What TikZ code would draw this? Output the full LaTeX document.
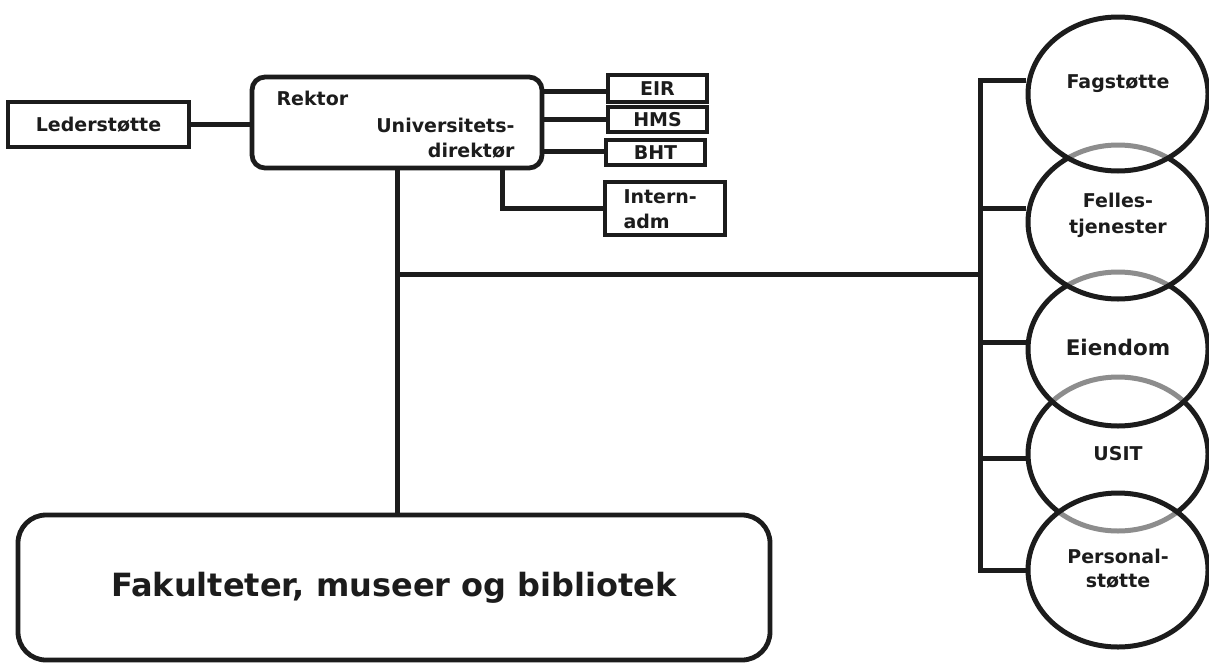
\documentclass[tikz,border=0pt]{standalone}
\usepackage{fontspec}
\setmainfont{DejaVu Sans}
\usetikzlibrary{shapes.geometric,calc}
\definecolor{ink}{HTML}{1C1C1C}
\tikzset{
  lbl/.style={font=\fontsize{19}{22}\selectfont\bfseries, text=ink},
  sqbox/.style={draw=ink, line width=4.8pt, fill=white, inner sep=0pt, lbl},
  rbox/.style={sqbox, rounded corners=13pt},
  unit/.style={ellipse, draw=ink, line width=5pt, fill=white, fill opacity=0.5,
    minimum width=180pt, minimum height=154pt, inner sep=0pt},
  conn/.style={draw=ink, line width=5pt},
}
\begin{document}
\begin{tikzpicture}[x=1pt,y=-1pt]
\useasboundingbox[fill=white] (0,0) rectangle (1209,664);

% boxes
\node[sqbox, minimum width=181pt, minimum height=45pt] (led) at (98.5,124.5) {Lederstøtte};
\node[rbox, minimum width=290pt, minimum height=91pt] (rek) at (397,122.5) {};
\node[lbl, anchor=base west] (rektxt) at (273,105) {Rektor};
\node[lbl, anchor=base east] (unitxt) at (518,132) {Universitets-};
\node[lbl, anchor=base east] (dirtxt) at (518,157) {direktør};

\node[sqbox, minimum width=99pt, minimum height=27pt] (eir) at (657.5,88.5) {EIR};
\node[sqbox, minimum width=99pt, minimum height=25pt] (hms) at (657.5,119.5) {HMS};
\node[sqbox, minimum width=99pt, minimum height=25pt] (bht) at (655.5,152.5) {BHT};
\node[sqbox, minimum width=120pt, minimum height=53pt] (int) at (665,208.5) {};
\node[lbl, anchor=base west] (inttxt1) at (620,203) {Intern-};
\node[lbl, anchor=base west] (inttxt2) at (620,228) {adm};

\node[rbox, rounded corners=28pt, minimum width=752pt, minimum height=145pt,
      font=\fontsize{32}{38}\selectfont\bfseries] (fak) at (394,587.5) {\raisebox{-4pt}{Fakulteter, museer og bibliotek}};

% connectors from Rektor
\draw[conn] ($(eir.west)+(0,3)$) -- ($(eir.west -| rek.east)+(0,3)$);
\draw[conn] (led.east) -- (led.east -| rek.west);
\draw[conn] (hms.west) -- (hms.west -| rek.east);
\draw[conn] ($(bht.west)+(0,-1.5)$) -- ($(bht.west -| rek.east)+(0,-1.5)$);
\coordinate (ib) at (502,168);
\draw[conn, line join=miter] (ib) |- (int.west);
\draw[conn] (rek.south) -- (rek.south |- fak.north);
\coordinate (junc) at (397,274);
\coordinate (st) at (980,80);
\coordinate (sb) at (980,570);
\draw[conn] (junc) -- (junc -| st);

% units on the right (drawn bottom-most first)
\node[unit] (usit) at (1118,454) {};
\node[unit] (pers) at (1118,570) {};
\node[unit] (eie) at (1118,349) {};
\node[unit] (fel) at (1118,222) {};
\node[unit] (fag) at (1118,94) {};

\node[lbl, anchor=base] (usittxt) at ($(usit.center)+(0,6)$) {USIT};
\node[lbl, anchor=base] (perstxt1) at ($(pers.center)+(0,-7)$) {Personal-};
\node[lbl, anchor=base] (perstxt2) at ($(pers.center)+(0,17)$) {støtte};
\node[lbl, anchor=base, font=\fontsize{21.5}{26}\selectfont\bfseries] (eietxt) at ($(eie.center)+(0,6)$) {Eiendom};
\node[lbl, anchor=base] (feltxt1) at ($(fel.center)+(0,-15)$) {Felles-};
\node[lbl, anchor=base] (feltxt2) at ($(fel.center)+(0,11)$) {tjenester};
\node[lbl, anchor=base] (fagtxt) at ($(fag.center)+(0,-6)$) {Fagstøtte};

% spine and branches
\coordinate (b2) at (980,208);
\coordinate (b3) at (980,342);
\coordinate (b4) at (980,458);
\draw[conn, line join=miter] (st -| fag.west) -- (st) -- (sb) -- (sb -| pers.west);
\draw[conn] (b2) -- (b2 -| fel.west);
\draw[conn] (b3) -- (b3 -| eie.west);
\draw[conn] (b4) -- (b4 -| usit.west);
\end{tikzpicture}
\end{document}
